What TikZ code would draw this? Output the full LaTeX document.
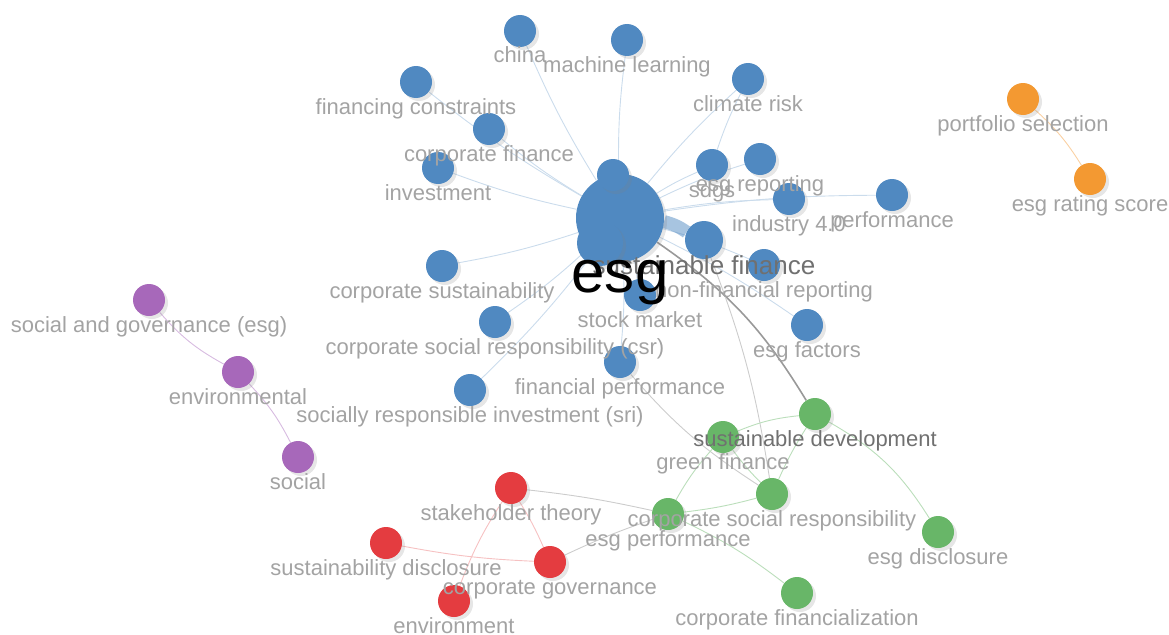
\documentclass[tikz,border=0pt]{standalone}
\usepackage{fontspec}
\setmainfont{Liberation Sans}
\usetikzlibrary{backgrounds, shadows}

\definecolor{kwblue}{RGB}{80,137,193}
\definecolor{kwgreen}{RGB}{104,182,104}
\definecolor{kwred}{RGB}{228,60,64}
\definecolor{kwpurple}{RGB}{167,104,186}
\definecolor{kworange}{RGB}{243,153,50}
\definecolor{kwtext}{RGB}{163,163,163}
\definecolor{kwdark}{RGB}{112,112,112}

\begin{document}
\begin{tikzpicture}[
    x=1pt, y=-1pt,
    % Styles
    kw/.style={circle, inner sep=0pt, minimum size=32pt,
      drop shadow={shadow xshift=3pt, shadow yshift=-3pt, opacity=0.2}},
    lbl/.style={font=\fontsize{22}{22}\selectfont, text=kwtext,
      inner sep=0pt, text height=16pt, text depth=5pt, yshift=-26.5pt},
    blue edge/.style={draw=kwblue!30, line width=0.9pt},
    grey edge/.style={draw=black!20, line width=0.9pt},
    green edge/.style={draw=kwgreen!45, line width=0.9pt},
    red edge/.style={draw=kwred!32, line width=0.9pt}
  ]
  \useasboundingbox (0,0) rectangle (1169,634);

  % 1. Blue cluster (esg in the middle)
  \node[kw, fill=kwblue, minimum size=88pt] (esg) at (620,218) {};
  \node[kw, fill=kwblue, minimum size=46pt] (anon2) at (600,243) {};
  \node[kw, fill=kwblue, minimum size=38pt] (susfin) at (704,240) {};
  \foreach \n/\x/\y in {china/520/31, mlearn/627/40, fincon/416/82,
      climate/748/79, corpfin/489/129, invest/438/168, anon1/613/175,
      sdgs/712/165, esgrep/760/159, industry/789/199, perf/892/195,
      nonfin/764/265, factors/807/325, corpsust/442/266, csr/495/322,
      sri/470/390, finperf/620/362, stock/640/295}
    \node[kw, fill=kwblue] (\n) at (\x,\y) {};

  % 2. Green cluster
  \foreach \n/\x/\y in {susdev/815/414, greenfin/723/437, csrg/772/494,
      esgperf/668/514, esgdisc/938/532, corpfinz/797/593}
    \node[kw, fill=kwgreen] (\n) at (\x,\y) {};

  % 3. Red cluster
  \foreach \n/\x/\y in {stake/511/488, susdisc/386/543, corpgov/550/562,
      envmt/454/601}
    \node[kw, fill=kwred] (\n) at (\x,\y) {};

  % 4. Purple and orange clusters
  \foreach \n/\x/\y in {sge/149/300, envtal/238/372, social/298/457}
    \node[kw, fill=kwpurple] (\n) at (\x,\y) {};
  \foreach \n/\x/\y in {portsel/1023/99, rating/1090/179}
    \node[kw, fill=kworange] (\n) at (\x,\y) {};

  % --- Links ---
  \begin{scope}[on background layer]
    \foreach \n in {china, mlearn, fincon, climate, corpfin, invest, anon1,
        sdgs, esgrep, industry, perf, nonfin, factors, corpsust, csr, sri,
        finperf, stock}
      \draw[blue edge] (esg) to[bend left=4] (\n);
    \draw[blue edge] (climate) to[bend right=4] (sdgs);
    \draw[kwblue, opacity=0.5, line width=13pt] (esg) to[bend left=10] (susfin);
    \draw[black!40, line width=1.6pt] (esg) to[bend left=12] (susdev);
    \draw[grey edge] (finperf) to[bend right=8] (csrg);
    \draw[grey edge] (susfin) to[bend left=6] (csrg);
    \draw[grey edge] (stake) to[bend left=3] (esgperf);
    \draw[grey edge] (corpgov) to[bend left=3] (esgperf);
    \draw[green edge] (susdev) to[bend right=8] (greenfin);
    \draw[green edge] (susdev) to[bend right=4] (csrg);
    \draw[green edge] (susdev) to[bend left=14] (esgdisc);
    \draw[green edge] (esgperf) to[bend left=6] (greenfin);
    \draw[green edge] (esgperf) to[bend right=4] (csrg);
    \draw[green edge] (esgperf) to[bend left=6] (corpfinz);
    \draw[green edge] (greenfin) to[bend right=4] (csrg);
    \draw[red edge] (stake) to[bend right=6] (envmt);
    \draw[red edge] (stake) to[bend left=4] (corpgov);
    \draw[red edge] (susdisc) to[bend right=4] (corpgov);
    \draw[draw=kwpurple!45, line width=0.9pt] (sge) to[bend right=10] (envtal);
    \draw[draw=kwpurple!45, line width=0.9pt] (envtal) to[bend left=8] (social);
    \draw[draw=kworange!45, line width=0.9pt] (portsel) to[bend left=8] (rating);
  \end{scope}

  % --- Labels ---
  \foreach \n/\t in {china/china, mlearn/machine learning,
      fincon/financing constraints, climate/climate risk,
      corpfin/corporate finance, invest/investment, esgrep/esg reporting,
      sdgs/sdgs, industry/industry 4.0, perf/performance,
      nonfin/non-financial reporting, factors/esg factors,
      corpsust/corporate sustainability,
      csr/corporate social responsibility (csr),
      sri/socially responsible investment (sri),
      finperf/financial performance, stock/stock market,
      greenfin/green finance, csrg/corporate social responsibility,
      esgperf/esg performance, esgdisc/esg disclosure,
      corpfinz/corporate financialization, stake/stakeholder theory,
      susdisc/sustainability disclosure, corpgov/corporate governance,
      envmt/environment, sge/social and governance (esg),
      envtal/environmental, social/social, portsel/portfolio selection,
      rating/esg rating score}
    \node[lbl] (\n-lbl) at (\n) {\t};
  \node[lbl, text=kwdark] (susdev-lbl) at (susdev) {sustainable development};
  \node[lbl, text=kwdark, font=\fontsize{26}{26}\selectfont, yshift=-2pt]
    (susfin-lbl) at (susfin) {sustainable finance};
  \node[inner sep=0pt, font=\fontsize{60}{60}\selectfont] (esg-lbl)
    at (620,283) {esg};
\end{tikzpicture}
\end{document}
